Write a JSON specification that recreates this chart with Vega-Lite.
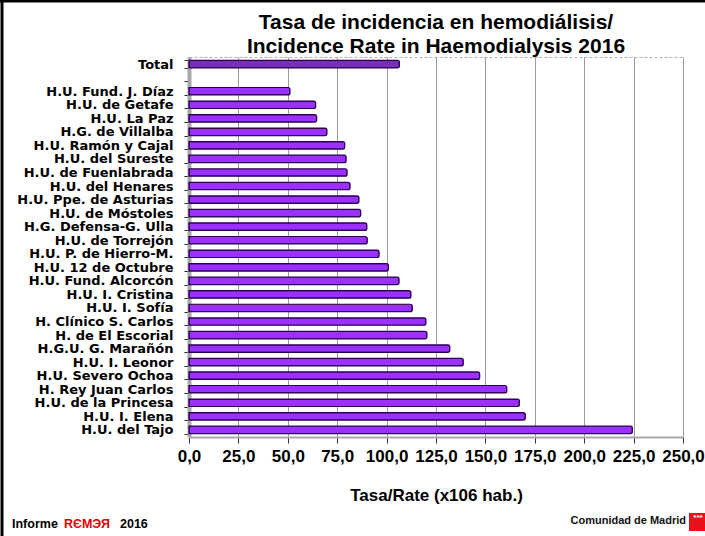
{
  "$schema": "https://vega.github.io/schema/vega-lite/v6.json",
  "autosize": "none",
  "width": 494,
  "height": 380,
  "padding": {"left": 189, "top": 57, "right": 22, "bottom": 99},
  "background": "white",
  "title": {
    "text": ["Tasa de incidencia en hemodiálisis/", "Incidence Rate in Haemodialysis 2016"],
    "font": "Liberation Sans",
    "fontSize": 21,
    "fontWeight": "bold",
    "color": "black",
    "anchor": "middle",
    "lineHeight": 24,
    "offset": 0,
    "dy": 58
  },
  "config": {
    "view": {"stroke": "#b0b0b0", "strokeDash": [3, 2], "strokeWidth": 1},
    "axis": {"labelFont": "Liberation Sans", "titleFont": "Liberation Sans"}
  },
  "layer": [
    {
      "data": {
        "values": [
          {"hospital": "Total", "rate": 106.5, "group": "total"},
          {"hospital": "H.U. Fund. J. Díaz", "rate": 51.1, "group": "h"},
          {"hospital": "H.U. de Getafe", "rate": 64.1, "group": "h"},
          {"hospital": "H.U. La Paz", "rate": 64.6, "group": "h"},
          {"hospital": "H.G. de Villalba", "rate": 69.8, "group": "h"},
          {"hospital": "H.U. Ramón y Cajal", "rate": 78.8, "group": "h"},
          {"hospital": "H.U. del Sureste", "rate": 79.5, "group": "h"},
          {"hospital": "H.U. de Fuenlabrada", "rate": 80.0, "group": "h"},
          {"hospital": "H.U. del Henares", "rate": 81.5, "group": "h"},
          {"hospital": "H.U. Ppe. de Asturias", "rate": 86.0, "group": "h"},
          {"hospital": "H.U. de Móstoles", "rate": 86.9, "group": "h"},
          {"hospital": "H.G. Defensa-G. Ulla", "rate": 90.0, "group": "h"},
          {"hospital": "H.U. de Torrejón", "rate": 90.2, "group": "h"},
          {"hospital": "H.U. P. de Hierro-M.", "rate": 96.2, "group": "h"},
          {"hospital": "H.U. 12 de Octubre", "rate": 100.9, "group": "h"},
          {"hospital": "H.U. Fund. Alcorcón", "rate": 106.3, "group": "h"},
          {"hospital": "H.U. I. Cristina", "rate": 112.3, "group": "h"},
          {"hospital": "H.U. I. Sofía", "rate": 113.0, "group": "h"},
          {"hospital": "H. Clínico S. Carlos", "rate": 119.9, "group": "h"},
          {"hospital": "H. de El Escorial", "rate": 120.4, "group": "h"},
          {"hospital": "H.G.U. G. Marañón", "rate": 132.0, "group": "h"},
          {"hospital": "H.U. I. Leonor", "rate": 138.8, "group": "h"},
          {"hospital": "H.U. Severo Ochoa", "rate": 147.1, "group": "h"},
          {"hospital": "H. Rey Juan Carlos", "rate": 160.8, "group": "h"},
          {"hospital": "H.U. de la Princesa", "rate": 167.2, "group": "h"},
          {"hospital": "H.U. I. Elena", "rate": 170.2, "group": "h"},
          {"hospital": "H.U. del Tajo", "rate": 224.4, "group": "h"}
        ]
      },
      "mark": {"type": "bar", "stroke": "#2a0050", "strokeWidth": 1.2, "cornerRadiusEnd": 2},
      "encoding": {
        "y": {
          "field": "hospital",
          "type": "nominal",
          "scale": {
            "domain": ["Total", " ", "H.U. Fund. J. Díaz", "H.U. de Getafe", "H.U. La Paz", "H.G. de Villalba", "H.U. Ramón y Cajal", "H.U. del Sureste", "H.U. de Fuenlabrada", "H.U. del Henares", "H.U. Ppe. de Asturias", "H.U. de Móstoles", "H.G. Defensa-G. Ulla", "H.U. de Torrejón", "H.U. P. de Hierro-M.", "H.U. 12 de Octubre", "H.U. Fund. Alcorcón", "H.U. I. Cristina", "H.U. I. Sofía", "H. Clínico S. Carlos", "H. de El Escorial", "H.G.U. G. Marañón", "H.U. I. Leonor", "H.U. Severo Ochoa", "H. Rey Juan Carlos", "H.U. de la Princesa", "H.U. I. Elena", "H.U. del Tajo"],
            "paddingInner": 0.45,
            "paddingOuter": 0.25
          },
          "axis": {
            "title": null,
            "labelFont": "DejaVu Sans",
            "labelFontSize": 13,
            "labelFontWeight": "bold",
            "labelColor": "black",
            "labelPadding": 11,
            "tickBand": "extent",
            "tickSize": 5,
            "tickColor": "#222",
            "domainColor": "#a8a8a8",
            "domainWidth": 4,
            "grid": false
          }
        },
        "x": {
          "field": "rate",
          "type": "quantitative",
          "scale": {"domain": [0, 250], "nice": false},
          "axis": {
            "values": [0, 25, 50, 75, 100, 125, 150, 175, 200, 225, 250],
            "labelExpr": "replace(format(datum.value, '.1f'), '.', ',')",
            "labelFontSize": 17,
            "labelFontWeight": "bold",
            "labelColor": "black",
            "labelPadding": 5,
            "labelFlush": false,
            "labelOverlap": false,
            "tickSize": 6,
            "tickColor": "#333",
            "domainColor": "#a8a8a8",
            "domainWidth": 2,
            "grid": true,
            "gridColor": "#9a9a9a",
            "gridWidth": 1,
            "title": "Tasa/Rate (x106 hab.)",
            "titleFontSize": 17,
            "titleFontWeight": "bold",
            "titleColor": "black",
            "titlePadding": 23
          }
        },
        "color": {
          "field": "group",
          "type": "nominal",
          "scale": {"domain": ["total", "h"], "range": ["#7a2eb8", "#9b30ff"]},
          "legend": null
        }
      }
    },
    {
      "data": {"values": [
        {"t": "Informe", "c": "k", "px": -177, "py": 467},
        {"t": "RЄMЭЯ", "c": "r", "px": -125, "py": 467},
        {"t": "2016", "c": "k", "px": -69, "py": 467}
      ]},
      "mark": {"type": "text", "align": "left", "baseline": "middle", "font": "Liberation Sans", "fontSize": 12.5, "fontWeight": "bold"},
      "encoding": {
        "x": {"field": "px", "type": "quantitative", "scale": null},
        "y": {"field": "py", "type": "quantitative", "scale": null},
        "text": {"field": "t"},
        "color": {"field": "c", "type": "nominal", "scale": {"domain": ["k", "r"], "range": ["black", "#e00000"]}, "legend": null}
      }
    },
    {
      "data": {"values": [{"t": "Comunidad de Madrid", "px": 497, "py": 464}]},
      "mark": {"type": "text", "align": "right", "baseline": "middle", "font": "Liberation Sans", "fontSize": 11, "fontWeight": "bold", "color": "#111"},
      "encoding": {
        "x": {"field": "px", "type": "quantitative", "scale": null},
        "y": {"field": "py", "type": "quantitative", "scale": null},
        "text": {"field": "t"}
      }
    },
    {
      "data": {"values": [{"x1": 500, "x2": 518, "y1": 456, "y2": 474}]},
      "mark": {"type": "rect", "color": "#e8121c"},
      "encoding": {
        "x": {"field": "x1", "type": "quantitative", "scale": null},
        "x2": {"field": "x2"},
        "y": {"field": "y1", "type": "quantitative", "scale": null},
        "y2": {"field": "y2"}
      }
    },
    {
      "data": {"values": [{"t": "***", "px": 509, "py": 461}]},
      "mark": {"type": "text", "align": "center", "baseline": "middle", "font": "Liberation Sans", "fontSize": 8, "fontWeight": "bold", "color": "white"},
      "encoding": {
        "x": {"field": "px", "type": "quantitative", "scale": null},
        "y": {"field": "py", "type": "quantitative", "scale": null},
        "text": {"field": "t"}
      }
    },
    {
      "data": {"values": [
        {"x1": -187, "x2": -187, "y1": -57, "y2": 479},
        {"x1": -189, "x2": 516, "y1": -56, "y2": -56}
      ]},
      "mark": {"type": "rule", "color": "black", "strokeWidth": 3},
      "encoding": {
        "x": {"field": "x1", "type": "quantitative", "scale": null},
        "x2": {"field": "x2"},
        "y": {"field": "y1", "type": "quantitative", "scale": null},
        "y2": {"field": "y2"}
      }
    }
  ],
  "resolve": {"scale": {"color": "independent"}}
}
